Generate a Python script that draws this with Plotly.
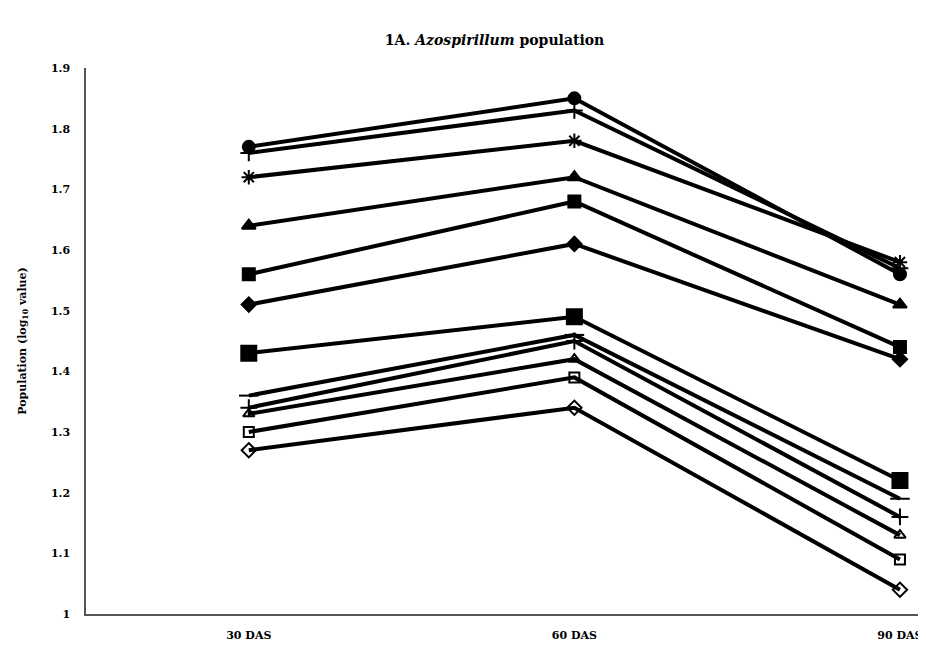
import plotly.graph_objects as go

categories = ["30 DAS", "60 DAS", "90 DAS"]
x_pos = [0, 1, 2]

s_circle = [1.77, 1.85, 1.56]
s_plus_top = [1.76, 1.83, 1.57]
s_star = [1.72, 1.78, 1.58]
s_triangle = [1.64, 1.72, 1.51]
s_square_small = [1.56, 1.68, 1.44]
s_diamond = [1.51, 1.61, 1.42]
s_square_big = [1.43, 1.49, 1.22]
s_dash = [1.36, 1.46, 1.19]
s_plus = [1.34, 1.45, 1.16]
s_triangle_open = [1.33, 1.42, 1.13]
s_square_open = [1.30, 1.39, 1.09]
s_diamond_open = [1.27, 1.34, 1.04]

y_ticks = [1, 1.1, 1.2, 1.3, 1.4, 1.5, 1.6, 1.7, 1.8, 1.9]
y_tick_labels = ["1", "1.1", "1.2", "1.3", "1.4", "1.5", "1.6", "1.7", "1.8", "1.9"]

series = [
    (s_circle, "circle", 12),
    (s_plus_top, "cross-thin-open", 12),
    (s_star, "asterisk-open", 12),
    (s_triangle, "triangle-up", 12),
    (s_square_small, "square", 12),
    (s_diamond, "diamond", 11),
    (s_square_big, "square", 15),
    (s_dash, "line-ew-open", 14),
    (s_plus, "cross-thin-open", 12),
    (s_triangle_open, "triangle-up-open", 10),
    (s_square_open, "square-open", 10),
    (s_diamond_open, "diamond-open", 11),
]

fig = go.Figure()
for vals, sym, size in series:
    fig.add_trace(go.Scatter(
        x=x_pos, y=vals, mode="lines+markers",
        line=dict(color="black", width=4),
        marker=dict(symbol=sym, size=size, color="black",
                    line=dict(color="black", width=2)),
        showlegend=False,
    ))

font_fam = "DejaVu Serif, Liberation Serif, serif"
fig.update_layout(
    width=918, height=642,
    paper_bgcolor="white", plot_bgcolor="white",
    margin=dict(l=78, r=0, t=60, b=36),
    title=dict(text="<b>1A. <i>Azospirillum</i> population</b>",
               x=0.53, xref="container", xanchor="center",
               y=0.95, yref="container", yanchor="middle",
               font=dict(family=font_fam, size=14, color="black")),
    font=dict(family=font_fam, color="black"),
)
fig.update_xaxes(
    tickvals=x_pos, ticktext=["<b>" + c + "</b>" for c in categories],
    range=[-0.5, 2.08], showgrid=False, zeroline=False, automargin=False,
    showline=True, linecolor="#555555", linewidth=1.5,
    ticks="", ticklabelstandoff=10,
    tickfont=dict(family=font_fam, size=11, color="black"),
)
fig.update_yaxes(
    range=[1, 1.9], tickvals=y_ticks, ticktext=["<b>" + t + "</b>" for t in y_tick_labels],
    showgrid=False, zeroline=False, automargin=False,
    showline=True, linecolor="#555555", linewidth=1.5,
    ticks="", ticklabelstandoff=12,
    tickfont=dict(family=font_fam, size=11, color="black"),
    title=dict(text="<b>Population (log<sub>10</sub> value)</b>",
               font=dict(family=font_fam, size=11, color="black"), standoff=22),
)

fig.write_html("out.html")
